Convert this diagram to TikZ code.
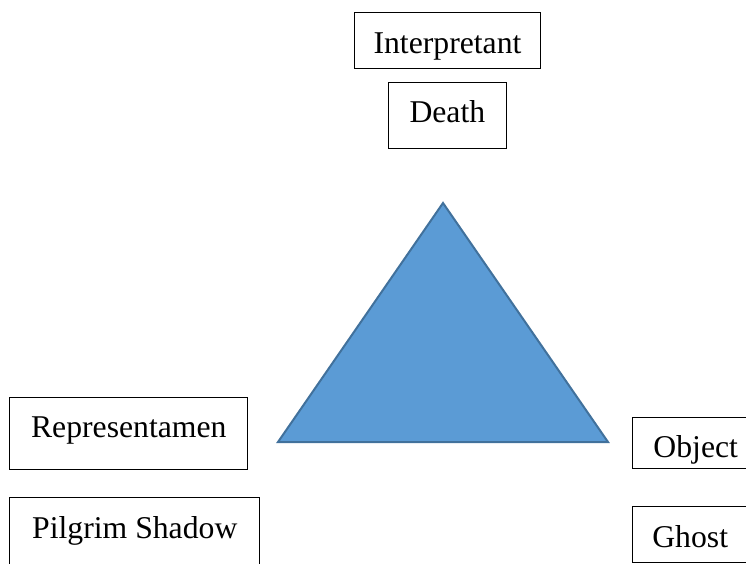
\documentclass[tikz,border=0pt]{standalone}
\usepackage{fontspec}
\setmainfont{Liberation Serif}
\definecolor{triFill}{HTML}{5B9BD5}
\definecolor{triLine}{HTML}{41719C}
\tikzset{
  labelbox/.style={draw, line width=1pt, anchor=north west,
    inner xsep=0pt, inner ysep=0pt,
    font=\fontsize{31.7}{38}\selectfont}
}
\begin{document}
\begin{tikzpicture}[x=1pt, y=-1pt]
    % 0. Page frame
    \useasboundingbox (0,0) rectangle (746,563);
    \clip (0,0) rectangle (746,563);

    % 1. Define Coordinates
    \coordinate (Top) at (443, 203); % apex
    \coordinate (BL) at (278, 442);  % Bottom Left
    \coordinate (BR) at (608, 442);  % Bottom Right

    % 2. Draw the Triangle
    \filldraw[fill=triFill, draw=triLine, line width=2pt, line join=miter]
        (Top) -- (BR) -- (BL) -- cycle;

    % 3. Draw the Labels
    % top: interpretant
    \node[labelbox, minimum width=186pt, text height=41.3pt, text depth=15pt]
        (interp) at (354, 12) {Interpretant};
    \node[labelbox, minimum width=118.3pt, text height=40.6pt, text depth=26pt]
        (death) at (387.7, 81.7) {Death};

    % left: representamen
    \node[labelbox, minimum width=238pt, text height=40pt, text depth=32.3pt]
        (repr) at (9.3, 396.7) {Representamen};
    \node[labelbox, minimum width=250pt, text height=41pt, text depth=32pt]
        (pilgrim) at (9.3, 497.3) {Pilgrim Shadow};

    % right: object (boxes run off the page)
    \node[labelbox, minimum width=127pt, text height=40.6pt, text depth=11pt]
        (object) at (631.7, 416.7) {Object};
    \node[labelbox, minimum width=116pt, text height=40.7pt, text depth=15pt]
        (ghost) at (631.7, 506) {Ghost};
\end{tikzpicture}
\end{document}
